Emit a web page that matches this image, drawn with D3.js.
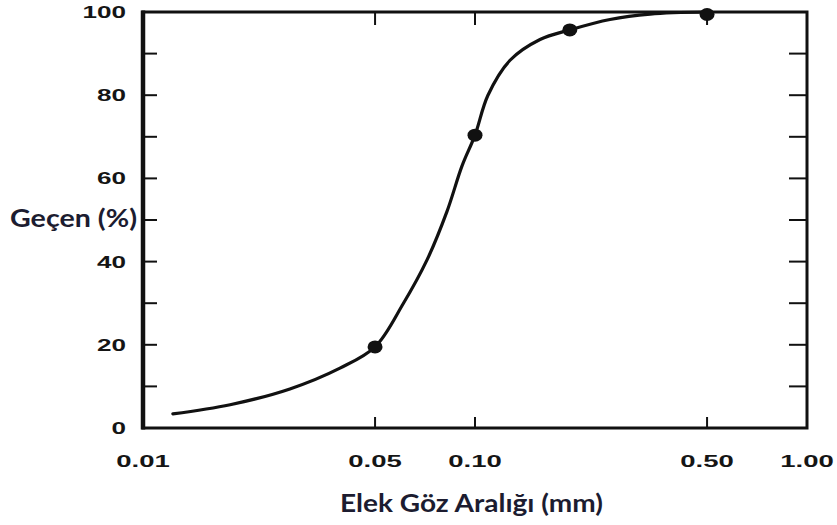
<!DOCTYPE html>
<html>
<head>
<meta charset="utf-8">
<script src="https://cdn.jsdelivr.net/npm/d3@7"></script>
<style>
  html, body { margin: 0; padding: 0; background: #fff; }
  svg { display: block; }
</style>
</head>
<body>
<svg id="chart" width="837" height="525"></svg>
<script>
// ---- data ----
const xTickValues = [0.01, 0.05, 0.10, 0.50, 1.00];
const xTickLabels = ["0.01", "0.05", "0.10", "0.50", "1.00"];
const yTickValues = [0, 10, 20, 30, 40, 50, 60, 70, 80, 90, 100];
const yTickLabels = ["0", "", "20", "", "40", "", "60", "", "80", "", "100"];
const pointSize = [0.05, 0.10, 0.193, 0.50];
const pointPass = [19.5, 70.4, 95.7, 99.4];
const curveSize = [0.0123, 0.0183, 0.0277, 0.0392, 0.05, 0.0607, 0.0717, 0.0823, 0.0914, 0.10, 0.1094, 0.1275, 0.157, 0.193, 0.255, 0.337, 0.50];
const curvePass = [3.4, 5.6, 9.4, 14.4, 19.5, 29.8, 40.4, 52.0, 63.0, 70.4, 80.0, 88.4, 93.4, 95.7, 98.2, 99.5, 100];
const xTitle = "Elek Göz Aralığı (mm)";
const yTitle = "Geçen (%)";

// ---- layout ----
const L = 143, R = 807, T = 12, B = 428;
const svg = d3.select("#chart");
const x = d3.scaleLog().domain([0.01, 1]).range([L, R]);
const y = d3.scaleLinear().domain([0, 100]).range([B, T]);

const ink = "#111";
const labelFont = "'Liberation Sans', Arial, sans-serif";

// ticks (inside the frame)
const gTicks = svg.append("g").attr("stroke", ink).attr("stroke-width", 2);
yTickValues.forEach(v => {
  if (v === 0 || v === 100) return;
  gTicks.append("line").attr("x1", x(0.01)).attr("x2", x(0.01) + 14).attr("y1", y(v)).attr("y2", y(v));
  gTicks.append("line").attr("x1", x(1)).attr("x2", x(1) - 18).attr("y1", y(v)).attr("y2", y(v));
});
xTickValues.forEach(v => {
  if (v === 0.01 || v === 1) return;
  gTicks.append("line").attr("x1", x(v)).attr("x2", x(v)).attr("y1", y(0)).attr("y2", y(0) - 11);
  gTicks.append("line").attr("x1", x(v)).attr("x2", x(v)).attr("y1", y(100)).attr("y2", y(100) + 13);
});

// frame
svg.append("rect").attr("x", L).attr("y", T).attr("width", R - L).attr("height", B - T)
  .attr("fill", "none").attr("stroke", ink).attr("stroke-width", 3);
svg.append("line").attr("x1", L).attr("x2", L).attr("y1", T - 1.5).attr("y2", B + 1.5)
  .attr("stroke", ink).attr("stroke-width", 4.5);

// tick labels
function charLen(s) {
  let w = 0;
  for (const c of s) w += (c === "." ? 10 : 14.5);
  return w;
}
svg.append("g").selectAll("text").data(yTickValues.map((v, i) => ({v, t: yTickLabels[i]})).filter(d => d.t))
  .join("text")
  .attr("x", 126).attr("y", d => y(d.v)).attr("dy", "0.36em")
  .attr("text-anchor", "end")
  .attr("font-family", labelFont).attr("font-weight", "bold").attr("font-size", 16.5)
  .attr("fill", "#151515")
  .attr("textLength", d => charLen(d.t)).attr("lengthAdjust", "spacingAndGlyphs")
  .text(d => d.t);

svg.append("g").selectAll("text").data(xTickValues.map((v, i) => ({v, t: xTickLabels[i]})))
  .join("text")
  .attr("x", d => x(d.v)).attr("y", 467)
  .attr("text-anchor", "middle")
  .attr("font-family", labelFont).attr("font-weight", "bold").attr("font-size", 16.5)
  .attr("fill", "#151515")
  .attr("textLength", d => charLen(d.t)).attr("lengthAdjust", "spacingAndGlyphs")
  .text(d => d.t);

// curve
const line = d3.line().x(d => x(d[0])).y(d => y(d[1])).curve(d3.curveCatmullRom.alpha(0.5));
svg.append("path").datum(curveSize.map((s, i) => [s, curvePass[i]]))
  .attr("d", line).attr("fill", "none").attr("stroke", ink).attr("stroke-width", 3.2)
  .attr("stroke-linecap", "round").attr("stroke-linejoin", "round");

// points
svg.append("g").selectAll("ellipse").data(pointSize.map((s, i) => [s, pointPass[i]]))
  .join("ellipse")
  .attr("cx", d => x(d[0])).attr("cy", d => y(d[1])).attr("rx", 7.5).attr("ry", 6.5)
  .attr("fill", ink);

// titles
const titleFont = "Lato, 'Open Sans', sans-serif";
svg.append("text").attr("x", 10).attr("y", 227)
  .attr("font-family", titleFont).attr("font-weight", "bold").attr("font-size", 25)
  .attr("fill", "#1c1c30")
  .attr("textLength", 127).attr("lengthAdjust", "spacingAndGlyphs")
  .text(yTitle);
svg.append("text").attr("x", 340).attr("y", 512)
  .attr("font-family", titleFont).attr("font-weight", "bold").attr("font-size", 25)
  .attr("fill", "#1c1c30")
  .attr("textLength", 263).attr("lengthAdjust", "spacingAndGlyphs")
  .text(xTitle);
</script>
</body>
</html>
